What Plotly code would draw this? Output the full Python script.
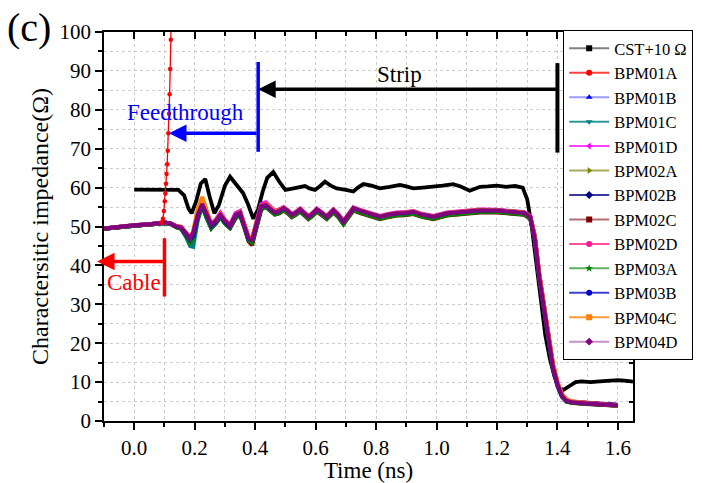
import plotly.graph_objects as go

# ---------------- data ----------------
t_cst = [0.00, 0.05, 0.10, 0.146, 0.165, 0.18, 0.19, 0.205, 0.22, 0.235, 0.25, 0.265, 0.28,
         0.30, 0.317, 0.33, 0.345, 0.36, 0.375, 0.394, 0.41, 0.425, 0.44, 0.46, 0.48, 0.50,
         0.527, 0.545, 0.565, 0.58, 0.598, 0.615, 0.631, 0.65, 0.67, 0.70, 0.725, 0.74,
         0.758, 0.785, 0.813, 0.845, 0.879, 0.90, 0.923, 0.955, 0.99, 1.02, 1.055, 1.08,
         1.11, 1.144, 1.17, 1.20, 1.23, 1.26, 1.285, 1.30, 1.315, 1.33, 1.345, 1.36, 1.375,
         1.39, 1.405, 1.42, 1.44, 1.46, 1.48, 1.51, 1.54, 1.57, 1.60, 1.63, 1.65]
z_cst = [59.5, 59.5, 59.5, 59.4, 58.0, 54.5, 53.4, 56.5, 61.0, 62.2, 57.5, 53.4, 55.5,
         60.5, 62.8, 61.5, 60.0, 58.6, 56.0, 52.0, 54.5, 59.0, 62.5, 64.0, 61.5, 59.4,
         59.8, 60.1, 60.4, 59.8, 59.4, 60.4, 61.5, 60.5, 59.8, 59.4, 59.0, 60.0,
         60.9, 60.5, 59.8, 60.2, 60.7, 60.3, 59.8, 60.0, 60.2, 60.5, 60.9, 60.3,
         59.2, 60.2, 60.3, 60.5, 60.2, 60.4, 60.0, 57.0, 50.0, 40.0, 30.0, 22.0, 16.0,
         11.5, 8.5, 8.0, 9.0, 10.0, 10.2, 10.0, 10.2, 10.4, 10.5, 10.3, 10.1]

t_bpm = [-0.10, -0.05, 0.00, 0.05, 0.10, 0.12, 0.14, 0.155, 0.17, 0.185,
         0.195, 0.21, 0.225, 0.24, 0.255, 0.27, 0.285, 0.30, 0.317, 0.335,
         0.35, 0.365, 0.378, 0.39, 0.405, 0.42, 0.435, 0.45, 0.465, 0.48,
         0.494, 0.508, 0.521, 0.535, 0.549, 0.562, 0.576, 0.59, 0.604, 0.62,
         0.637, 0.659, 0.675, 0.692, 0.71, 0.725, 0.75, 0.78, 0.813, 0.84,
         0.868, 0.895, 0.923, 0.955, 0.99, 1.034, 1.088, 1.144, 1.20, 1.26,
         1.29, 1.31, 1.325, 1.34, 1.355, 1.37, 1.385, 1.40, 1.415, 1.43,
         1.45, 1.50, 1.55, 1.60]

bpm01a_t = [0.09, 0.095, 0.098, 0.101, 0.103, 0.105, 0.107, 0.109, 0.111, 0.113,
            0.115, 0.117, 0.119, 0.121, 0.123]
bpm01a_z = [51.0, 52.0, 54.0, 56.5, 58.5, 61.0, 63.5, 66.0, 69.5, 74.0,
            79.0, 84.0, 90.5, 98.0, 106.0]

bpm01b = [49.4, 49.9, 50.2, 50.5, 50.9, 50.7, 49.9, 49.6, 48.0, 46.0,
          47.5, 52.5, 55.0, 52.5, 50.0, 51.2, 52.8, 51.2, 50.0, 52.5,
          53.4, 50.2, 47.0, 46.2, 50.5, 54.5, 55.2, 54.3, 53.5, 53.8,
          54.5, 53.8, 52.8, 53.4, 54.2, 53.3, 52.3, 53.1, 54.2, 53.3,
          52.3, 54.0, 52.8, 51.0, 52.8, 54.5, 53.8, 53.0, 52.2, 52.8,
          53.2, 53.3, 53.6, 52.8, 52.3, 53.2, 53.6, 54.0, 54.0, 53.7,
          53.4, 52.3, 46.5, 36.5, 28.5, 20.5, 13.5, 9.0, 6.2, 5.0,
          4.7, 4.5, 4.3, 4.1]
bpm01c = [49.4, 49.9, 50.2, 50.5, 50.9, 50.7, 49.8, 49.4, 47.5, 45.0,
          44.8, 51.5, 55.5, 52.0, 49.5, 51.0, 52.5, 51.0, 49.8, 52.2,
          53.2, 49.8, 46.5, 46.0, 50.5, 54.8, 55.3, 54.4, 53.5, 53.8,
          54.4, 53.7, 52.7, 53.3, 54.1, 53.2, 52.2, 53.0, 54.1, 53.2,
          52.2, 53.9, 52.7, 50.9, 52.7, 54.4, 53.7, 52.9, 52.2, 52.7,
          53.1, 53.2, 53.5, 52.7, 52.2, 53.1, 53.5, 53.9, 53.9, 53.6,
          53.3, 52.2, 46.8, 37.0, 29.0, 21.0, 14.0, 9.4, 6.4, 5.1,
          4.7, 4.4, 4.2, 4.0]
bpm01d = [49.5, 50.0, 50.3, 50.6, 51.0, 50.8, 50.1, 49.9, 48.6, 47.2,
          48.0, 53.5, 56.0, 53.5, 50.8, 51.8, 53.5, 51.8, 50.4, 53.4,
          54.0, 50.5, 47.5, 47.0, 51.5, 55.8, 56.2, 55.0, 54.0, 54.4,
          55.0, 54.2, 53.2, 53.8, 54.6, 53.7, 52.7, 53.5, 54.6, 53.7,
          52.7, 54.4, 53.2, 51.4, 53.2, 54.9, 54.2, 53.4, 52.7, 53.2,
          53.6, 53.7, 54.0, 53.2, 52.7, 53.6, 54.0, 54.4, 54.3, 54.0,
          53.7, 52.7, 47.5, 37.5, 29.5, 21.5, 14.5, 9.8, 6.8, 5.4,
          4.9, 4.6, 4.3, 4.0]
bpm02a = [49.5, 50.0, 50.3, 50.6, 51.0, 50.8, 50.0, 49.7, 48.2, 46.5,
          47.8, 53.0, 56.5, 53.0, 50.3, 51.3, 53.0, 51.3, 50.1, 52.8,
          53.5, 50.1, 47.0, 46.5, 50.8, 55.0, 55.5, 54.5, 53.6, 54.0,
          54.6, 53.9, 52.9, 53.5, 54.3, 53.4, 52.4, 53.2, 54.3, 53.4,
          52.4, 54.1, 52.9, 51.1, 52.9, 54.6, 53.9, 53.1, 52.4, 52.9,
          53.3, 53.4, 53.7, 52.9, 52.4, 53.3, 53.7, 54.1, 54.0, 53.7,
          53.4, 52.4, 47.0, 37.0, 29.0, 21.0, 14.0, 9.5, 6.5, 5.2,
          4.8, 4.5, 4.3, 4.0]
bpm02b = [49.4, 49.9, 50.2, 50.5, 50.9, 50.7, 49.9, 49.6, 48.2, 46.4,
          47.5, 52.6, 55.6, 52.6, 50.1, 51.1, 52.8, 51.1, 49.9, 52.6,
          53.3, 50.0, 46.9, 46.4, 50.6, 54.7, 55.3, 54.3, 53.4, 53.8,
          54.5, 53.8, 52.8, 53.4, 54.2, 53.3, 52.3, 53.1, 54.2, 53.3,
          52.3, 54.0, 52.8, 51.0, 52.8, 54.5, 53.8, 53.0, 52.3, 52.8,
          53.2, 53.3, 53.6, 52.8, 52.3, 53.2, 53.6, 54.0, 54.0, 53.7,
          53.4, 52.4, 47.2, 37.3, 29.2, 21.2, 14.2, 9.6, 6.5, 5.2,
          4.8, 4.6, 4.4, 4.1]
bpm02c = [49.4, 49.9, 50.2, 50.5, 50.9, 50.7, 49.8, 49.5, 48.0, 46.2,
          47.2, 52.2, 55.3, 52.3, 49.6, 50.8, 52.4, 50.8, 49.6, 52.2,
          53.0, 49.6, 46.2, 45.2, 50.0, 54.4, 55.0, 54.0, 53.1, 53.4,
          54.1, 53.4, 52.4, 53.0, 53.8, 52.9, 51.9, 52.7, 53.8, 52.9,
          51.9, 53.6, 52.4, 50.6, 52.4, 54.1, 53.4, 52.6, 51.9, 52.4,
          52.8, 52.9, 53.2, 52.4, 51.9, 52.8, 53.2, 53.6, 53.6, 53.3,
          53.0, 52.0, 46.8, 36.8, 28.8, 20.8, 13.8, 9.3, 6.3, 5.0,
          4.6, 4.4, 4.2, 3.9]
bpm02d = [49.5, 50.0, 50.3, 50.6, 51.0, 50.8, 50.1, 49.9, 48.5, 46.8,
          47.8, 53.2, 56.2, 53.2, 50.5, 51.5, 53.2, 51.5, 50.2, 53.0,
          53.8, 50.3, 47.2, 46.8, 51.2, 55.4, 55.9, 54.8, 53.8, 54.2,
          54.8, 54.0, 53.0, 53.6, 54.4, 53.5, 52.5, 53.3, 54.4, 53.5,
          52.5, 54.2, 53.0, 51.2, 53.0, 54.7, 54.0, 53.2, 52.5, 53.0,
          53.4, 53.5, 53.8, 53.0, 52.5, 53.4, 53.8, 54.2, 54.1, 53.8,
          53.5, 52.6, 47.6, 37.8, 29.8, 21.8, 14.8, 10.0, 6.9, 5.5,
          5.0, 4.7, 4.4, 4.1]
bpm03a = [49.4, 49.9, 50.2, 50.5, 50.9, 50.7, 49.8, 49.5, 48.0, 45.8,
          46.8, 52.0, 55.2, 52.2, 49.6, 50.8, 52.4, 50.8, 49.6, 52.1,
          53.0, 49.6, 46.4, 45.8, 50.2, 54.4, 55.0, 54.0, 53.1, 53.5,
          54.2, 53.5, 52.5, 53.1, 53.9, 53.0, 52.0, 52.8, 53.9, 53.0,
          52.0, 53.7, 52.5, 50.6, 52.5, 54.2, 53.5, 52.7, 52.0, 52.5,
          52.9, 53.0, 53.3, 52.5, 52.0, 52.9, 53.3, 53.7, 53.7, 53.4,
          53.1, 52.1, 46.9, 36.9, 28.9, 20.9, 13.9, 9.4, 6.4, 5.1,
          4.7, 4.4, 4.2, 3.9]
bpm03b = [49.5, 50.0, 50.3, 50.6, 51.0, 50.8, 50.0, 49.7, 48.3, 46.6,
          47.6, 52.8, 55.8, 52.8, 50.2, 51.2, 52.9, 51.2, 50.0, 52.7,
          53.4, 50.0, 46.9, 46.5, 50.8, 55.0, 55.5, 54.5, 53.6, 54.0,
          54.7, 54.0, 53.0, 53.6, 54.4, 53.5, 52.5, 53.3, 54.4, 53.5,
          52.5, 54.2, 53.0, 51.2, 53.0, 54.7, 54.0, 53.2, 52.5, 53.0,
          53.4, 53.5, 53.8, 53.0, 52.5, 53.4, 53.8, 54.2, 54.2, 53.9,
          53.6, 52.6, 47.3, 37.4, 29.4, 21.4, 14.3, 9.7, 6.6, 5.3,
          4.9, 4.6, 4.4, 4.1]
bpm04c = [49.5, 50.0, 50.3, 50.6, 51.0, 50.8, 50.1, 49.9, 48.6, 47.0,
          48.8, 54.5, 57.6, 53.8, 50.6, 51.6, 53.2, 51.6, 50.3, 53.0,
          53.8, 50.4, 47.4, 47.2, 51.4, 55.2, 55.8, 54.8, 53.9, 54.2,
          54.8, 54.1, 53.1, 53.7, 54.5, 53.6, 52.6, 53.4, 54.5, 53.6,
          52.6, 54.3, 53.1, 51.3, 53.1, 54.8, 54.1, 53.3, 52.6, 53.1,
          53.5, 53.6, 53.9, 53.1, 52.6, 53.5, 53.9, 54.3, 54.2, 53.9,
          53.6, 52.7, 47.8, 38.0, 30.0, 22.0, 15.0, 10.2, 7.0, 5.6,
          5.0, 4.6, 4.3, 4.0]
bpm04d = [49.5, 50.0, 50.3, 50.6, 51.0, 50.8, 50.0, 49.8, 48.5, 47.0,
          48.5, 53.0, 55.8, 53.0, 50.5, 51.5, 53.0, 51.5, 50.2, 53.0,
          53.6, 50.0, 47.0, 46.5, 51.0, 55.2, 55.6, 54.5, 53.6, 54.0,
          54.7, 54.0, 53.0, 53.6, 54.4, 53.5, 52.5, 53.3, 54.4, 53.5,
          52.5, 54.2, 53.0, 51.2, 53.0, 54.7, 54.0, 53.2, 52.5, 53.0,
          53.4, 53.5, 53.8, 53.0, 52.5, 53.4, 53.8, 54.2, 54.1, 53.8,
          53.5, 52.5, 47.0, 37.0, 29.0, 21.0, 14.0, 9.5, 6.5, 5.2,
          4.8, 4.5, 4.3, 4.0]

legend_names = ["CST+10 Ω", "BPM01A", "BPM01B", "BPM01C", "BPM01D", "BPM02A", "BPM02B",
                "BPM02C", "BPM02D", "BPM03A", "BPM03B", "BPM04C", "BPM04D"]
bpm_series = [bpm01b, bpm01c, bpm01d, bpm02a, bpm02b, bpm02c, bpm02d,
              bpm03a, bpm03b, bpm04c, bpm04d]

x_ticks = [0.0, 0.2, 0.4, 0.6, 0.8, 1.0, 1.2, 1.4, 1.6]
y_ticks = [0, 10, 20, 30, 40, 50, 60, 70, 80, 90, 100]

# ---------------- styles ----------------
SERIF = "Liberation Serif"
line_colors = ["#000000", "#ff0000", "#0000ff", "#008080", "#ff00ff", "#808000", "#000080",
               "#800000", "#ff1493", "#008000", "#0000cc", "#ff8000", "#800080"]
legend_line_colors = ["#808080", "#ff4040", "#9a9aff", "#2a9a9a", "#ff40ff", "#a8a860", "#3a3a9a",
                      "#b07070", "#ff50a0", "#60b060", "#4040d0", "#ff9a30", "#c890c8"]
legend_symbols = ["square", "circle", "triangle-up", "triangle-down", "triangle-left",
                  "triangle-right", "diamond", "square", "circle", "star", "circle",
                  "square", "diamond"]

fig = go.Figure()

fig.add_trace(go.Scatter(x=t_cst, y=z_cst, mode="lines",
                         line=dict(color=line_colors[0], width=3.8), showlegend=False))
for vals, col in zip(bpm_series, line_colors[2:]):
    fig.add_trace(go.Scatter(x=t_bpm, y=vals, mode="lines",
                             line=dict(color=col, width=4), showlegend=False))
fig.add_trace(go.Scatter(x=bpm01a_t, y=bpm01a_z, mode="lines+markers",
                         line=dict(color=line_colors[1], width=1.3),
                         marker=dict(color=line_colors[1], size=4.5), showlegend=False))

# legend entries
for name, lc, mc, sym in zip(legend_names, legend_line_colors, line_colors, legend_symbols):
    fig.add_trace(go.Scatter(x=[None], y=[None], mode="lines+markers", name=name,
                             line=dict(color=lc, width=2),
                             marker=dict(color=mc, size=6, symbol=sym)))

# mirror axes with inward ticks
fig.add_trace(go.Scatter(x=[None], y=[None], xaxis="x2", yaxis="y2", showlegend=False))

grid = dict(gridcolor="#cccccc", griddash="dot", gridwidth=1)
tickfont = dict(family=SERIF, size=21, color="black")

fig.update_layout(
    width=702, height=483,
    margin=dict(l=104, r=69, t=32, b=62, autoexpand=False),
    paper_bgcolor="white", plot_bgcolor="white",
    font=dict(family=SERIF, color="black"),
    xaxis=dict(range=[-0.1, 1.65], tickvals=x_ticks, ticktext=[f"{v:.1f}" for v in x_ticks],
               ticks="outside", ticklen=7, tickwidth=1.5, tickcolor="black",
               showline=True, linecolor="black", linewidth=1.5, zeroline=False,
               showgrid=True, **grid,
               minor=dict(dtick=0.1, tick0=0, ticks="outside", ticklen=4, tickwidth=1.5,
                          tickcolor="black", showgrid=True, **grid),
               tickfont=tickfont,
               title=dict(text="Time (ns)", font=dict(family=SERIF, size=23), standoff=4)),
    yaxis=dict(range=[0, 100], tickvals=y_ticks,
               ticks="outside", ticklen=7, tickwidth=1.5, tickcolor="black",
               showline=True, linecolor="black", linewidth=1.5, zeroline=False,
               showgrid=True, **grid,
               minor=dict(dtick=5, tick0=0, ticks="outside", ticklen=4, tickwidth=1.5,
                          tickcolor="black", showgrid=True, **grid),
               tickfont=tickfont,
               title=dict(text="Charactersitic impedance(Ω)", font=dict(family=SERIF, size=24),
                          standoff=4)),
    xaxis2=dict(overlaying="x", side="top", anchor="y", range=[-0.1, 1.65], tickvals=x_ticks,
                showticklabels=False, ticks="inside", ticklen=7, tickwidth=1.5, tickcolor="black",
                showline=True, linecolor="black", linewidth=1.5, showgrid=False, zeroline=False,
                minor=dict(dtick=0.1, tick0=0, ticks="inside", ticklen=4, tickwidth=1.5,
                           tickcolor="black", showgrid=False)),
    yaxis2=dict(overlaying="y", side="right", anchor="x", range=[0, 100], tickvals=y_ticks,
                showticklabels=False, ticks="inside", ticklen=7, tickwidth=1.5, tickcolor="black",
                showline=True, linecolor="black", linewidth=1.5, showgrid=False, zeroline=False,
                minor=dict(dtick=5, tick0=0, ticks="inside", ticklen=4, tickwidth=1.5,
                           tickcolor="black", showgrid=False)),
    legend=dict(x=0.868, y=1.005, xanchor="left", yanchor="top",
                bgcolor="white", bordercolor="black", borderwidth=1,
                font=dict(family=SERIF, size=16.5, color="black"), itemwidth=40,
                tracegroupgap=0, maxheight=420),
    showlegend=True,
)

# annotation markers: bars + arrows
shapes = [
    dict(type="line", xref="x", yref="y", x0=0.1, x1=0.1, y0=32, y1=47,
         line=dict(color="red", width=3.5)),
    dict(type="line", xref="x", yref="y", x0=0.41, x1=0.41, y0=69.2, y1=92.3,
         line=dict(color="blue", width=3.5)),
    dict(type="line", xref="x", yref="y", x0=1.40, x1=1.40, y0=69, y1=92,
         line=dict(color="black", width=4)),
]
fig.update_layout(shapes=shapes)

arrows = [
    dict(x=-0.123, y=41, ax=0.1, ay=41, color="red"),
    dict(x=0.115, y=74, ax=0.41, ay=74, color="blue"),
    dict(x=0.41, y=85.3, ax=1.40, ay=85.3, color="black"),
]
for a in arrows:
    fig.add_annotation(x=a["x"], y=a["y"], ax=a["ax"], ay=a["ay"], xref="x", yref="y",
                       axref="x", ayref="y", text="", showarrow=True, arrowhead=2,
                       arrowsize=1, arrowwidth=3.5, arrowcolor=a["color"], standoff=0,
                       startstandoff=0)

labels = [
    dict(text="Cable", x=0.0, y=35.5, color="red"),
    dict(text="Feedthrough", x=0.17, y=79.4, color="blue"),
    dict(text="Strip", x=0.876, y=89.2, color="black"),
]
for lb in labels:
    fig.add_annotation(x=lb["x"], y=lb["y"], xref="x", yref="y", text=lb["text"],
                       showarrow=False, font=dict(family=SERIF, size=23, color=lb["color"]))

fig.add_annotation(x=(5 - 104) / 529, y=(421 - 3) / 389, xref="paper", yref="paper",
                   xanchor="left", yanchor="top", text="(c)",
                   showarrow=False, font=dict(family=SERIF, size=40, color="black"))

fig.write_html("out.html")
